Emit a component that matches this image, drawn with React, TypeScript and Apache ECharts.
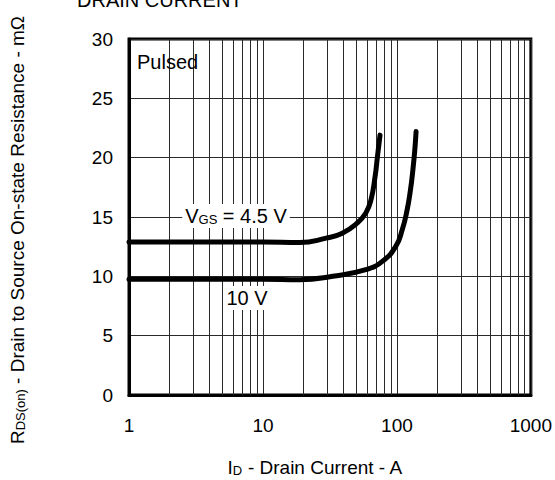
import React, { useEffect, useRef } from "react";
import * as echarts from "echarts";

const xTickLabels = [1, 10, 100, 1000];
const minorGridX = [2, 3, 4, 5, 6, 7, 8, 9, 20, 30, 40, 50, 60, 70, 80, 90, 200, 300, 400, 500, 600, 700, 800, 900];
const yTicks = [0, 5, 10, 15, 20, 25, 30];

const vgs45X = [1, 5, 10, 18.8, 29.6, 39.1, 50.6, 58.6, 63.9, 68.7, 71.5, 74.8];
const vgs45Y = [12.9, 12.9, 12.9, 12.85, 13.22, 13.64, 14.5, 15.34, 16.4, 18.4, 20.06, 21.9];

const vgs10X = [1, 10, 18.8, 33.2, 58.6, 77.8, 97.8, 109.4, 119.2, 126.3, 131.4, 135.9, 139];
const vgs10Y = [9.75, 9.75, 9.72, 10.0, 10.56, 11.26, 12.5, 13.9, 15.6, 17.3, 18.9, 20.6, 22.2];

const FONT = "'Liberation Sans', Arial, sans-serif";

export default function App() {
  const ref = useRef<HTMLDivElement>(null);
  useEffect(() => {
    if (!ref.current) return;
    const chart = echarts.init(ref.current, null, { renderer: "svg" });
    const gridColor = "#2a2a2a";
    const subStyle = { fontSize: 13, fill: "#000", fontFamily: FONT, padding: [6, 0, 0, 0] };
    chart.setOption({
      animation: false,
      backgroundColor: "#fff",
      textStyle: { fontFamily: FONT },
      grid: {
        left: 129,
        right: 22.5,
        top: 39,
        bottom: 85,
        show: true,
        borderColor: "#000",
        borderWidth: 3,
        backgroundColor: "transparent",
      },
      xAxis: {
        type: "log",
        logBase: 10,
        min: xTickLabels[0],
        max: xTickLabels[xTickLabels.length - 1],
        axisLine: { show: true, lineStyle: { color: "#000", width: 3 } },
        axisTick: { show: false },
        axisLabel: {
          fontSize: 19,
          color: "#000",
          margin: 21,
          fontFamily: FONT,
          formatter: (v: number) => String(Math.round(v)),
        },
        splitLine: { show: true, lineStyle: { color: gridColor, width: 1 } },
      },
      yAxis: {
        type: "value",
        min: yTicks[0],
        max: yTicks[yTicks.length - 1],
        interval: 5,
        axisLine: { show: true, lineStyle: { color: "#000", width: 3 } },
        axisTick: { show: false },
        axisLabel: { fontSize: 19, color: "#000", margin: 16, fontFamily: FONT },
        splitLine: { show: true, lineStyle: { color: gridColor, width: 1 } },
      },
      series: [
        {
          type: "line",
          name: "grid",
          data: [],
          silent: true,
          markLine: {
            silent: true,
            symbol: "none",
            label: { show: false },
            lineStyle: { color: gridColor, width: 1, type: "solid" },
            data: minorGridX.map((v) => ({ xAxis: v })),
          },
        },
        {
          type: "line",
          name: "VGS = 4.5 V",
          data: vgs45X.map((x, i) => [x, vgs45Y[i]]),
          showSymbol: false,
          smooth: 0.5,
          lineStyle: { color: "#000", width: 5, cap: "round" },
          z: 5,
        },
        {
          type: "line",
          name: "10 V",
          data: vgs10X.map((x, i) => [x, vgs10Y[i]]),
          showSymbol: false,
          smooth: 0.5,
          lineStyle: { color: "#000", width: 5, cap: "round" },
          z: 5,
        },
      ],
      graphic: [
        {
          type: "text",
          x: 77,
          y: -10,
          style: { text: "DRAIN CURRENT", fontSize: 20, fill: "#000", fontFamily: FONT },
        },
        {
          type: "text",
          x: 137,
          y: 62,
          style: { text: "Pulsed", fontSize: 20, fill: "#000", fontFamily: FONT, verticalAlign: "middle" },
          z: 10,
        },
        {
          type: "text",
          x: 236,
          y: 216,
          z: 10,
          style: {
            text: "V{sub|GS} = 4.5 V",
            fontSize: 20,
            fill: "#000",
            fontFamily: FONT,
            align: "center",
            verticalAlign: "middle",
            backgroundColor: "#fff",
            padding: [2, 3, 2, 3],
            rich: { sub: subStyle },
          },
        },
        {
          type: "text",
          x: 247,
          y: 298,
          z: 10,
          style: {
            text: "10 V",
            fontSize: 20,
            fill: "#000",
            fontFamily: FONT,
            align: "center",
            verticalAlign: "middle",
            backgroundColor: "#fff",
            padding: [2, 3, 2, 3],
          },
        },
        {
          type: "text",
          x: 315,
          y: 467,
          z: 10,
          style: {
            text: "I{sub|D} - Drain Current - A",
            fontSize: 19,
            fill: "#000",
            fontFamily: FONT,
            align: "center",
            verticalAlign: "middle",
            rich: { sub: subStyle },
          },
        },
        {
          type: "text",
          x: 17,
          y: 230,
          rotation: Math.PI / 2,
          z: 10,
          style: {
            text: "R{sub|DS(on)} - Drain to Source On-state Resistance - mΩ",
            fontSize: 19,
            fill: "#000",
            fontFamily: FONT,
            align: "center",
            verticalAlign: "middle",
            rich: { sub: subStyle },
          },
        },
      ],
    });
    return () => chart.dispose();
  }, []);
  return <div ref={ref} style={{ position: "absolute", left: 0, top: 0, width: 555, height: 480 }} />;
}
